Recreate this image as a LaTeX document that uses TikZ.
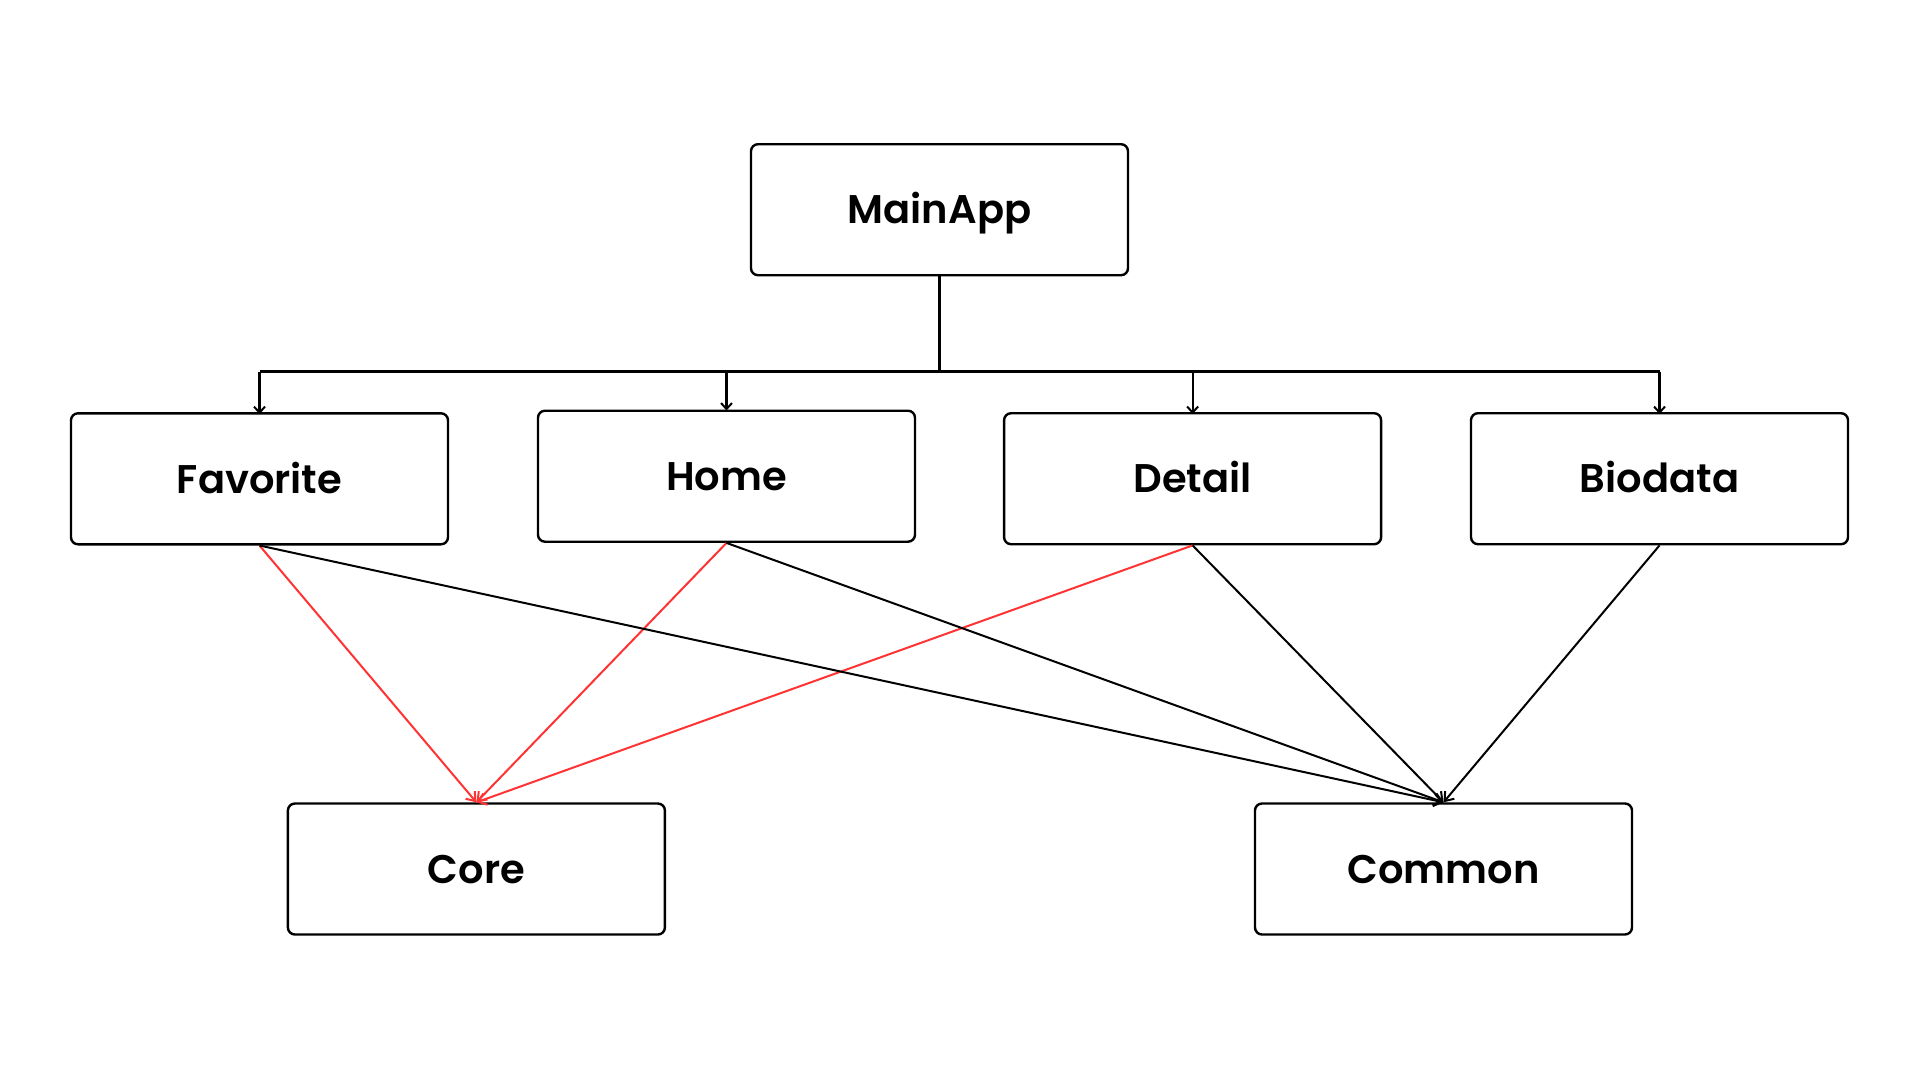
\documentclass[tikz,border=0pt]{standalone}
\usepackage{fontspec}
\setmainfont{Poppins}[UprightFont=* SemiBold]
\usetikzlibrary{arrows.meta}
\definecolor{depred}{RGB}{255,51,51}
\begin{document}
\begin{tikzpicture}[x=1pt,y=-1pt,
  modbox/.style={draw=black, line width=2.4pt, rounded corners=7pt,
    minimum width=377pt, minimum height=131pt, inner sep=0pt,
    font=\fontsize{40}{40}\selectfont, text height=28.5pt, text depth=0pt},
  busline/.style={line width=2.6pt},
  drop/.style={line width=2.2pt, -{Straight Barb[length=6pt,width=11pt,line width=2pt]}},
  deplink/.style={line width=2pt, -{Straight Barb[length=8pt,width=12pt,line width=2pt]}},
  corelink/.style={deplink, draw=depred}
]
\useasboundingbox (0,0) rectangle (1920,1080);
\node[modbox] (main) at (939.5,209.7) {MainApp};
\node[modbox] (fav) at (259.5,478.8) {Favorite};
\node[modbox] (home) at (726.5,476.2) {Home};
\node[modbox] (detail) at (1192.6,478.7) {Detail};
\node[modbox] (bio) at (1659.5,478.7) {Biodata};
\node[modbox] (core) at (476.4,869) {Core};
\node[modbox] (common) at (1443.5,869) {Common};
\coordinate (bus) at (939.5,371.5);
\draw[busline] (main.south) -- (bus);
\draw[busline] (fav.north |- bus) -- (bio.north |- bus);
\draw[drop] (fav.north |- bus) -- ([yshift=-2pt]fav.north);
\draw[drop] (home.north |- bus) -- ([yshift=-1pt]home.north);
\draw[drop] (detail.north |- bus) -- ([yshift=-2pt]detail.north);
\draw[drop] (bio.north |- bus) -- ([yshift=-2pt]bio.north);
\draw[corelink] (fav.south) -- (core.north);
\draw[corelink] (home.south) -- (core.north);
\draw[corelink] (detail.south) -- (core.north);
\draw[deplink] (fav.south) -- (common.north);
\draw[deplink] (home.south) -- (common.north);
\draw[deplink] (detail.south) -- (common.north);
\draw[deplink] (bio.south) -- (common.north);
\end{tikzpicture}
\end{document}
